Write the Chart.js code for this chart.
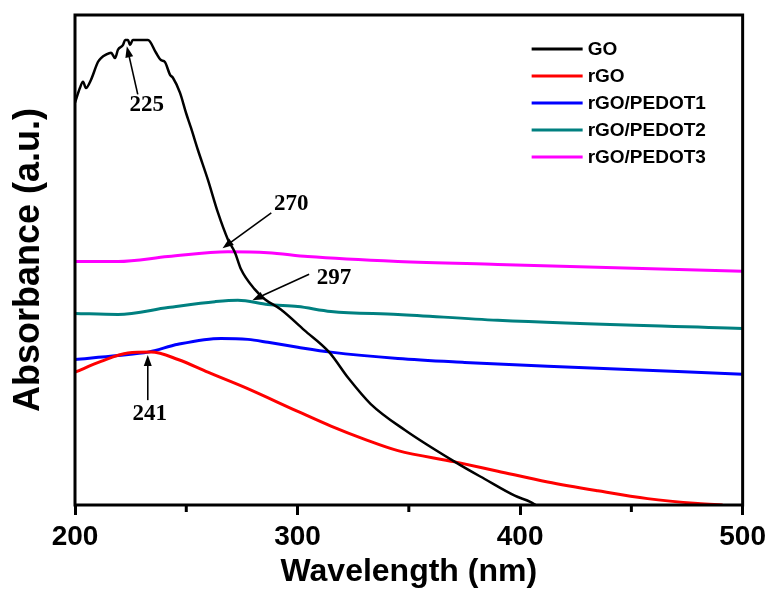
<!DOCTYPE html>
<html>
<head>
<meta charset="utf-8">
<script src="https://cdn.jsdelivr.net/npm/chart.js@4/dist/chart.umd.min.js"></script>
<style>
  body { margin: 0; background: #fff; }
</style>
</head>
<body>
<canvas id="uvChart" width="771" height="595"></canvas>
<script>
// wavelengths (nm) and absorbance (arbitrary units, 0-100)
const goWl = [200, 202.2, 203.6, 204.9, 207.2, 210.3, 211.7, 213.9, 216.2, 218, 219.3, 221.6, 222.5, 223.8, 224.7, 226, 232.8, 236.4, 238.6, 240.4, 242.7, 244, 247.2, 249.9, 252.1, 255.2, 259.7, 264.2, 268.7, 271.9, 274.6, 280.8, 285.3, 292.5, 303, 314.2, 323, 332.9, 348.2, 370.7, 384.1, 397.6, 404.8, 407];
const goAbs = [82.1, 85.1, 86.4, 85.1, 86.8, 90.4, 91.2, 91.9, 92.3, 91.2, 92.9, 93.9, 94.9, 94.9, 93.9, 94.9, 94.9, 92.3, 90.8, 90.4, 87.8, 87.2, 84.1, 80.0, 77.0, 72.5, 66.4, 59.7, 54.2, 51.5, 48.1, 44.0, 42.0, 39.9, 35.7, 31.2, 25.8, 20.6, 15.3, 8.8, 5.3, 1.9, 0.6, 0];

const rgoWl = [200, 211.7, 223.8, 234.1, 246.3, 259.7, 276.3, 300.1, 315, 330.2, 345.1, 370.7, 390, 412.4, 434.9, 457.3, 479.8, 491];
const rgoAbs = [27.1, 29.3, 31.0, 31.2, 29.7, 27.1, 24.0, 19.1, 16.1, 13.4, 11.1, 8.8, 6.9, 4.7, 2.9, 1.3, 0.3, 0];

const p1Wl = [200, 219.3, 232.8, 246.3, 265.6, 277.7, 286.7, 300.1, 315, 345.1, 375.1, 412.4, 500];
const p1Abs = [29.7, 30.5, 31.2, 32.8, 34.0, 33.8, 33.2, 32.2, 31.2, 29.9, 29.1, 28.3, 26.7];

const p2Wl = [200, 219.3, 241.8, 262.9, 273.2, 286.7, 300.1, 315, 345.1, 390, 500];
const p2Abs = [39.1, 38.9, 40.3, 41.5, 41.8, 40.9, 40.5, 39.5, 38.9, 37.7, 36.0];

const p3Wl = [200, 219.3, 241.8, 268.7, 286.7, 304.6, 345.1, 390, 500];
const p3Abs = [49.7, 49.7, 50.7, 51.7, 51.5, 50.7, 49.7, 49.1, 47.7];

const seriesNames = ['GO', 'rGO', 'rGO/PEDOT1', 'rGO/PEDOT2', 'rGO/PEDOT3'];
const xTicks = [200, 300, 400, 500];
const xMinorTicks = [250, 350, 450];

// peak labels: text position, arrow tail, arrow tip (wavelength, absorbance)
const peakLabels = ['225', '270', '297', '241'];
const peakText = [[232.2, 81.6], [297.2, 61.4], [316.4, 46.3], [233.6, 18.6]];
const peakTail = [[228.2, 83.8], [288.2, 59.6], [305.2, 47.1], [232.7, 21.4]];
const peakTip = [[223.3, 93.6], [266.3, 52.4], [279.7, 41.8], [232.7, 30.6]];

const colors = ['#000000', '#ff0000', '#0000ff', '#008080', '#ff00ff'];
const widths = [2.5, 3, 3, 3, 3];

const pts = (xs, ys) => xs.map((x, i) => ({ x: x, y: ys[i] }));
const allSeries = [pts(goWl, goAbs), pts(rgoWl, rgoAbs), pts(p1Wl, p1Abs), pts(p2Wl, p2Abs), pts(p3Wl, p3Abs)];

const datasets = allSeries.map((d, i) => ({
  label: seriesNames[i],
  data: d,
  borderColor: colors[i],
  borderWidth: widths[i],
  pointRadius: 0,
  cubicInterpolationMode: 'monotone',
  fill: false
}));

const extras = {
  id: 'extras',
  afterDatasetsDraw(chart) {
    const ctx = chart.ctx;
    const a = chart.chartArea;
    const xs = chart.scales.x, ys = chart.scales.y;
    ctx.save();

    // peak annotations
    ctx.fillStyle = '#000';
    ctx.strokeStyle = '#000';
    ctx.font = 'bold 23px "Liberation Serif"';
    ctx.textAlign = 'center';
    ctx.textBaseline = 'middle';
    peakLabels.forEach((t, i) => {
      ctx.fillText(t, xs.getPixelForValue(peakText[i][0]), ys.getPixelForValue(peakText[i][1]));
      const x1 = xs.getPixelForValue(peakTail[i][0]), y1 = ys.getPixelForValue(peakTail[i][1]);
      const x2 = xs.getPixelForValue(peakTip[i][0]), y2 = ys.getPixelForValue(peakTip[i][1]);
      const ang = Math.atan2(y2 - y1, x2 - x1);
      const hl = 11, hw = 4;
      ctx.lineWidth = 1.6;
      ctx.beginPath();
      ctx.moveTo(x1, y1);
      ctx.lineTo(x2 - Math.cos(ang) * hl * 0.8, y2 - Math.sin(ang) * hl * 0.8);
      ctx.stroke();
      ctx.beginPath();
      ctx.moveTo(x2, y2);
      ctx.lineTo(x2 - Math.cos(ang) * hl - Math.sin(ang) * hw, y2 - Math.sin(ang) * hl + Math.cos(ang) * hw);
      ctx.lineTo(x2 - Math.cos(ang) * hl + Math.sin(ang) * hw, y2 - Math.sin(ang) * hl - Math.cos(ang) * hw);
      ctx.closePath();
      ctx.fill();
    });

    // legend
    ctx.font = 'bold 19px "Liberation Sans"';
    ctx.textAlign = 'left';
    chart.data.datasets.forEach((ds, i) => {
      const y = a.top + 34 + 27 * i;
      ctx.strokeStyle = ds.borderColor;
      ctx.lineWidth = 3;
      ctx.beginPath();
      ctx.moveTo(a.right - 211, y);
      ctx.lineTo(a.right - 160, y);
      ctx.stroke();
      ctx.fillStyle = '#000';
      ctx.fillText(ds.label, a.right - 155, y + 1);
    });

    // minor ticks
    ctx.strokeStyle = '#000';
    ctx.lineWidth = 3;
    xMinorTicks.forEach(v => {
      const x = xs.getPixelForValue(v);
      ctx.beginPath();
      ctx.moveTo(x, a.bottom);
      ctx.lineTo(x, a.bottom + 7);
      ctx.stroke();
    });

    // frame
    ctx.lineWidth = 3;
    ctx.strokeRect(a.left, a.top, a.right - a.left, a.bottom - a.top);
    ctx.restore();
  }
};

new Chart(document.getElementById('uvChart').getContext('2d'), {
  type: 'line',
  data: { datasets: datasets },
  options: {
    responsive: false,
    animation: false,
    devicePixelRatio: 1,
    layout: { padding: { top: 15, right: 26, left: 0, bottom: 0 } },
    plugins: { legend: { display: false }, tooltip: { enabled: false } },
    scales: {
      x: {
        type: 'linear',
        min: 200,
        max: 500,
        afterBuildTicks: s => { s.ticks = xTicks.map(v => ({ value: v })); },
        afterFit: s => { s.height = 90; },
        border: { display: false },
        grid: { drawOnChartArea: false, tickLength: 10, lineWidth: 3, color: '#000' },
        ticks: { padding: 5, color: '#000', font: { family: 'Liberation Sans', size: 28, weight: 'bold' } },
        title: {
          display: true,
          text: 'Wavelength (nm)',
          color: '#000',
          padding: { top: 4, bottom: 4 },
          font: { family: 'Liberation Sans', size: 32, weight: 'bold' }
        }
      },
      y: {
        min: 0,
        max: 100,
        afterFit: s => { s.width = 75; },
        border: { display: false },
        grid: { display: false },
        ticks: { display: false },
        title: {
          display: true,
          text: 'Absorbance (a.u.)',
          color: '#000',
          padding: { top: 7, bottom: 4 },
          font: { family: 'Liberation Sans', size: 36, weight: 'bold' }
        }
      }
    }
  },
  plugins: [extras]
});
</script>
</body>
</html>
